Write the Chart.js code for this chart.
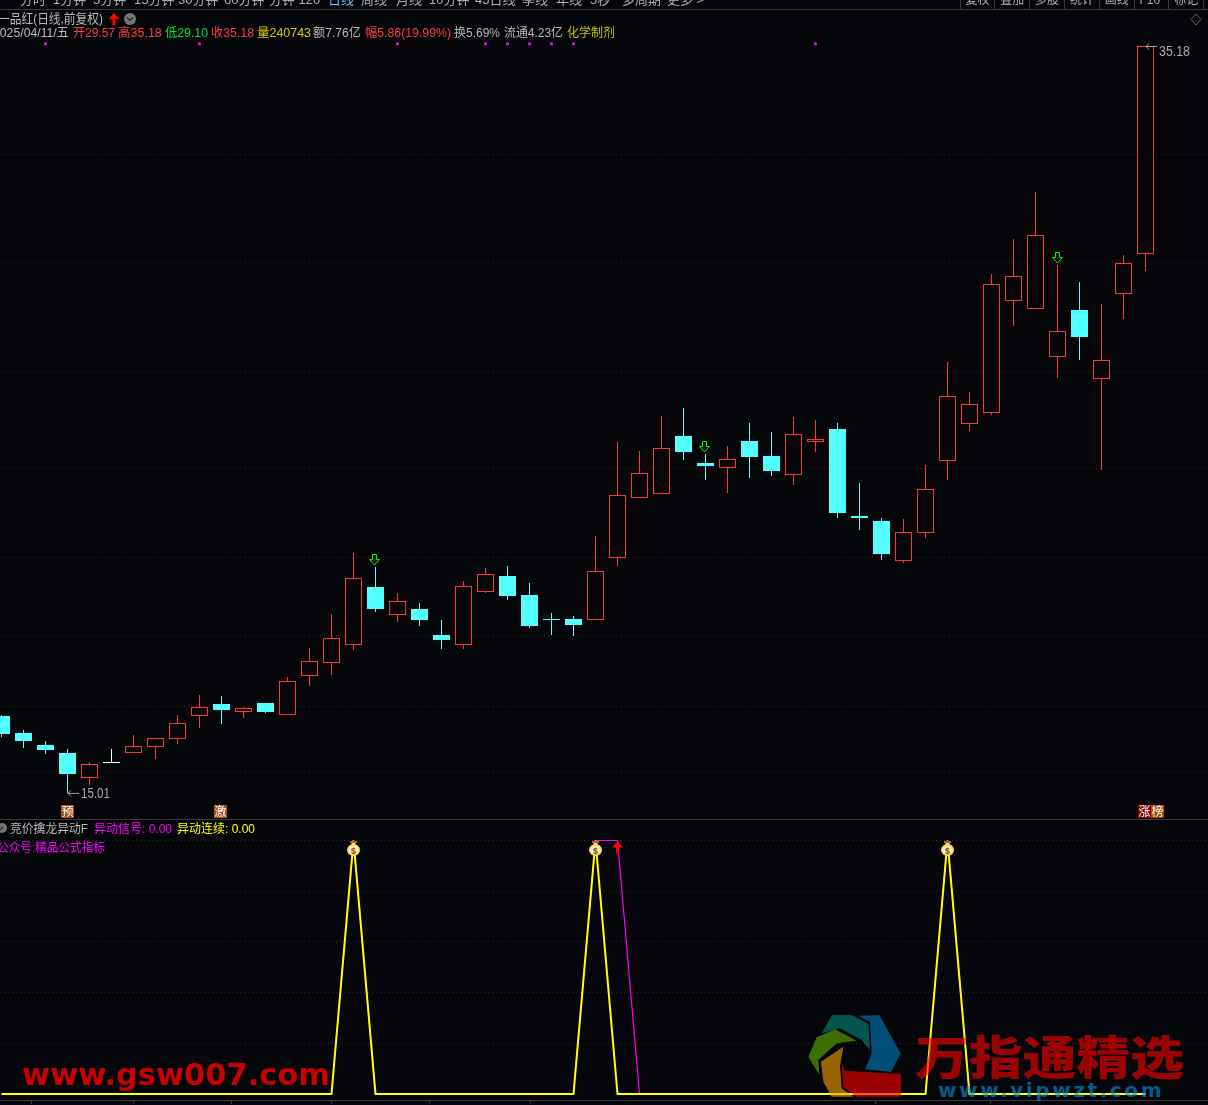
<!DOCTYPE html>
<html><head><meta charset="utf-8">
<script src="https://cdn.jsdelivr.net/npm/chart.js@4/dist/chart.umd.min.js"></script>
<style>
html,body{margin:0;padding:0;background:#05060a;overflow:hidden;width:1208px;height:1105px}
canvas{position:absolute;left:0}
#wrapA{position:absolute;left:0;top:0;width:1208px;height:819px}
#wrapB{position:absolute;left:0;top:819px;width:1208px;height:286px}
</style></head><body>
<div id="wrapA"><canvas id="price"></canvas></div>
<div id="wrapB"><canvas id="signal"></canvas></div>
<script>
// ---- data ----
const opens  = [17.09,16.63,16.30,16.09,15.41,15.85,16.09,16.25,16.47,17.09,17.41,17.19,17.44,17.11,18.17,18.52,19.00,20.57,19.81,19.98,19.27,19.00,20.44,20.87,20.35,19.71,19.71,19.68,21.35,22.97,23.08,24.65,23.92,23.78,24.51,24.11,23.59,24.49,24.84,22.49,22.35,21.27,22.03,23.97,24.97,25.27,28.29,28.08,26.78,28.05,26.19,28.48,29.57];
const highs  = [17.11,16.71,16.41,16.20,15.84,16.20,16.57,16.49,17.11,17.65,17.63,17.33,17.44,18.14,18.92,19.84,21.49,21.11,20.41,20.14,19.68,20.73,21.08,21.14,20.68,19.87,19.79,21.95,24.49,24.24,25.19,25.40,24.16,24.38,25.00,24.76,25.16,25.08,25.00,23.38,22.43,22.41,23.87,26.65,25.84,29.02,29.97,31.24,29.27,28.81,28.21,29.54,35.18];
const lows   = [16.52,16.22,16.06,15.01,15.22,15.82,16.09,15.93,16.33,16.76,16.87,17.03,17.17,17.11,17.90,18.19,18.87,19.90,19.63,19.52,18.90,18.90,20.41,20.22,19.46,19.27,19.25,19.68,21.14,22.97,23.08,24.00,23.46,23.11,23.51,23.57,23.32,24.22,22.43,22.11,21.30,21.22,21.89,23.46,24.78,25.22,27.62,28.08,26.21,26.70,23.73,27.81,29.10];
const closes = [16.60,16.41,16.17,15.52,15.79,15.85,16.28,16.49,16.90,17.33,17.25,17.30,17.19,18.03,18.57,19.19,20.81,19.98,20.19,19.68,19.14,20.60,20.92,20.33,19.52,19.68,19.54,21.00,23.05,23.65,24.32,24.22,23.84,24.03,24.08,23.70,24.70,24.57,22.57,22.43,21.46,22.06,23.22,25.73,25.51,28.75,28.97,30.08,27.48,27.32,26.70,29.32,35.18];
const priceGridTicks = [15.60,17.33,19.25,21.38,23.76,26.40,29.32,32.26];
const signalSeries     = [0,0,0,0,0,0,0,0,0,0,0,0,0,0,0,0,1,0,0,0,0,0,0,0,0,0,0,1,1,0,0,0,0,0,0,0,0,0,0,0,0,0,0,1,0,0,0,0,0,0,0,0,0];
const continuousSeries = [0,0,0,0,0,0,0,0,0,0,0,0,0,0,0,0,1,0,0,0,0,0,0,0,0,0,0,1,0,0,0,0,0,0,0,0,0,0,0,0,0,0,0,1,0,0,0,0,0,0,0,0,0];
const signalGridTicks = [0.2,0.4,0.6,0.8,1];
const markerDays = [2,9,18,22,23,24,25,26,37];
const sellArrowDays = [17,32,48];
const moneyBagDays = [16,27,43];
const buyArrowDay = 28;
const toolbarTabs = [["分时",20],["1分钟",53],["5分钟",93],["15分钟",134],["30分钟",178],["60分钟",224],["分钟 120",269],["日线",328],["周线",361],["月线",396],["10分钟",429],["45日线",475],["季线",522],["年线",556],["5秒",590],["多周期",622],["更多 >",667]];
const toolbarButtons = ["复权","叠加","多股","统计","画线","F10","标记"];
const quoteLine = [["2025/04/11/五",-7,76,"#b8b8b8"],["开29.57",73,42,"#ff3c3c"],["高35.18",118,44,"#ff3c3c"],["低29.10",165,43,"#00e040"],["收35.18",211,43,"#ff3c3c"],["量240743",257,54,"#d8c800"],["额7.76亿",313,48,"#b8b8b8"],["幅5.86(19.99%)",365,86,"#ff3c3c"],["换5.69%",454,46,"#b8b8b8"],["流通4.23亿",504,59,"#b8b8b8"],["化学制剂",567,48,"#c8c000"]];

// ---- styles ----
const BG = "#05060a", RED = "#ff3333", CYAN = "#54ffff", GRID = "#2c2c30";
const CJK = '"Liberation Sans","Noto Sans CJK SC",sans-serif';
const xMin = -1.5/22, xMax = (1208-1.5)/22;
const candleColor = i => closes[i] > opens[i] ? RED : closes[i] < opens[i] ? CYAN : "#ffffff";

function text(ctx, s, x, y, color, font, maxW){
  ctx.font = font; ctx.fillStyle = color; ctx.textAlign = "left"; ctx.textBaseline = "alphabetic";
  if (maxW) ctx.fillText(s, x, y, maxW); else ctx.fillText(s, x, y);
}
function poly(ctx, pts){ ctx.beginPath(); pts.forEach((p,i)=> i?ctx.lineTo(p[0],p[1]):ctx.moveTo(p[0],p[1])); ctx.closePath(); }
function upArrow(ctx, cx, top, color){
  poly(ctx, [[cx,top],[cx+5.5,top+6],[cx+1.5,top+6],[cx+1.5,top+12],[cx-1.5,top+12],[cx-1.5,top+6],[cx-5.5,top+6]]);
  ctx.fillStyle = color; ctx.fill();
}
function tag(ctx, s, x, color){
  ctx.fillStyle = color; ctx.fillRect(x, 805, 13, 13);
  ctx.font = '12px "Noto Sans CJK SC"'; ctx.fillStyle = "#fff"; ctx.textAlign = "center"; ctx.textBaseline = "alphabetic";
  ctx.fillText(s, x+6.5, 816); ctx.textAlign = "left";
}
function leftArrow(ctx, x0, x1, y){
  ctx.strokeStyle = "#aaaaaa"; ctx.lineWidth = 1; ctx.beginPath();
  ctx.moveTo(x1, y+.5); ctx.lineTo(x0, y+.5); ctx.moveTo(x0+3, y-2.5); ctx.lineTo(x0, y+.5); ctx.lineTo(x0+3, y+3.5); ctx.stroke();
}

// round the bars the library positioned onto whole pixel rows
const snapBars = { id:"snapBars", afterDatasetsUpdate(chart){
  chart.getDatasetMeta(0).data.concat(chart.getDatasetMeta(1).data).forEach(el=>{
    if (el.base === undefined) return;
    el.y = Math.round(el.y); el.base = Math.round(el.base);
    if (el.base === el.y) el.base = el.y + 1;
    el.height = el.base - el.y;
  });
}};

const priceOverlay = { id:"priceOverlay", afterDraw(chart){
  const ctx = chart.ctx, X = chart.scales.x, Y = chart.scales.y;
  ctx.save();
  // toolbar (cut by the window's top edge)
  ctx.fillStyle = BG; ctx.fillRect(0,0,1208,9);
  toolbarTabs.forEach(t => text(ctx, t[0], t[1], 4, t[0]==="日线" ? "#55ccff" : "#b0b0b0", '13px '+CJK));
  ctx.fillStyle = "#3a3a3a"; ctx.fillRect(0,9,1208,1);
  toolbarButtons.forEach((b,i)=>{
    const x = 959.5 + i*34.8;
    ctx.fillStyle = "#3a3a3a"; ctx.fillRect(Math.round(x),0,1,9);
    text(ctx, b, x+6, 4, "#b0b0b0", '12px '+CJK);
  });
  ctx.fillStyle = "#3a3a3a"; ctx.fillRect(1203,0,1,9);
  // title rows
  text(ctx, "一品红(日线,前复权)", -2, 23, "#b8b8b8", '13px '+CJK, 105);
  upArrow(ctx, 114, 13, "#ff0000");
  ctx.fillStyle = "#777"; ctx.beginPath(); ctx.arc(130,19,6,0,7); ctx.fill();
  ctx.strokeStyle = "#222"; ctx.lineWidth = 1.2; ctx.beginPath(); ctx.moveTo(127,17.5); ctx.lineTo(130,20.5); ctx.lineTo(133,17.5); ctx.stroke();
  ctx.strokeStyle = "#666"; ctx.lineWidth = 1; poly(ctx,[[1196,14],[1201,19.5],[1196,25],[1191,19.5]]); ctx.stroke();
  quoteLine.forEach(q => text(ctx, q[0], q[1], 37, q[3], '12.5px '+CJK, q[2]));
  // high / low labels
  leftArrow(ctx, 1146, 1157, Y.getPixelForValue(highs[52]));
  text(ctx, highs[52].toFixed(2), 1159, 56, "#aaaaaa", '14px "Liberation Sans"', 31);
  leftArrow(ctx, 68, 79, Y.getPixelForValue(lows[3]));
  text(ctx, lows[3].toFixed(2), 81, 798, "#aaaaaa", '14px "Liberation Sans"', 29);
  // sell arrows
  sellArrowDays.forEach(i=>{
    const cx = Math.round(X.getPixelForValue(i)) - .5, t = Math.round(Y.getPixelForValue(highs[i])) - 13;
    ctx.strokeStyle = "#00ff00"; ctx.lineWidth = 1;
    poly(ctx,[[cx-2,t+.5],[cx+2,t+.5],[cx+2,t+5.5],[cx+5,t+5.5],[cx,t+11],[cx-5,t+5.5],[cx-2,t+5.5]]); ctx.stroke();
  });
  // tags
  tag(ctx,"预",61,"#a84c10"); tag(ctx,"激",214,"#a84c10"); tag(ctx,"涨",1138,"#8b0000"); tag(ctx,"榜",1151,"#a04a00");
  ctx.restore();
}};

new Chart(document.getElementById("price"), {
  type:"bar",
  data:{ datasets:[
    { label:"K线实体", order:1, data:opens.map((o,i)=>({x:i,y:[o,closes[i]]})),
      barPercentage:1, categoryPercentage:1, maxBarThickness:17, inflateAmount:0,
      backgroundColor:c=>candleColor(c.dataIndex)===RED?BG:candleColor(c.dataIndex),
      borderColor:c=>candleColor(c.dataIndex), borderWidth:c=>candleColor(c.dataIndex)===RED?1:0, borderSkipped:false },
    { label:"影线", order:2, data:highs.map((h,i)=>({x:i,y:[lows[i],h]})),
      barPercentage:1, categoryPercentage:1, maxBarThickness:1, inflateAmount:0, backgroundColor:c=>candleColor(c.dataIndex), borderWidth:0 },
    { label:"标记", order:0, type:"line", showLine:false, data:markerDays.map(i=>({x:i,y:35.24})),
      pointStyle:"rect", pointRadius:2, pointBorderWidth:0, pointBackgroundColor:"#ff00ff" }
  ]},
  options:{
    responsive:true, maintainAspectRatio:false, animation:false, devicePixelRatio:1,
    grouped:false,
    layout:{autoPadding:false,padding:{top:10,bottom:0,left:0,right:0}},
    plugins:{legend:{display:false},tooltip:{enabled:false}},
    scales:{
      x:{type:"linear",offset:false,min:xMin,max:xMax,bounds:"data",display:false,grid:{display:false,offset:false}},
      y:{type:"linear",min:14.305,max:36.152,bounds:"data",
         ticks:{display:false},border:{display:false,dash:[1,3]},
         grid:{color:GRID,drawTicks:false,lineWidth:1},
         afterBuildTicks:s=>{s.ticks=priceGridTicks.map(v=>({value:v}));}}
    }
  },
  plugins:[snapBars,priceOverlay]
});

const signalOverlay = { id:"signalOverlay", afterDraw(chart){
  const ctx = chart.ctx, X = chart.scales.x, Y = chart.scales.y;
  ctx.save();
  ctx.translate(0,-819);
  // pane edges
  ctx.fillStyle = "#3a3a3a"; ctx.fillRect(0,819,1208,1);
  ctx.fillRect(0,1100,1208,1);
  [31,133,231,331,429,530,875,990].forEach(x=>ctx.fillRect(x,1101,1,3));
  // legend
  ctx.fillStyle = "#777"; ctx.beginPath(); ctx.arc(2,828,5,0,7); ctx.fill();
  ctx.strokeStyle = "#222"; ctx.lineWidth = 1.2; ctx.beginPath(); ctx.moveTo(0,830); ctx.lineTo(3,827); ctx.stroke();
  text(ctx,"竞价擒龙异动F",10,833,"#b8b8b8",'12.5px '+CJK,78);
  text(ctx,"异动信号: 0.00",94,833,"#ff00ff",'12.5px '+CJK,78);
  text(ctx,"异动连续: 0.00",177,833,"#ffff00",'12.5px '+CJK,78);
  text(ctx,"公众号:精品公式指标",-3,852,"#ff00ff",'12.5px '+CJK,108);
  // money bags at the signal peaks
  moneyBagDays.forEach(i=>{
    const cx = X.getPixelForValue(i), cy = Y.getPixelForValue(1)+819+8.5;
    ctx.fillStyle = "#a06a30"; ctx.fillRect(cx-3.5,cy-8,7,2);
    ctx.fillStyle = "#ffe070"; ctx.fillRect(cx-2,cy-6,4,2);
    ctx.beginPath(); ctx.ellipse(cx,cy+1,6.5,6,0,0,7); ctx.fillStyle="#ffd860"; ctx.fill();
    ctx.beginPath(); ctx.ellipse(cx,cy+1,4.5,4.5,0,0,7); ctx.fillStyle="#fff0c0"; ctx.fill();
    ctx.font='bold 9px "Liberation Sans"'; ctx.fillStyle="#70401c"; ctx.textAlign="center"; ctx.fillText("$",cx,cy+4.5); ctx.textAlign="left";
  });
  // buy arrow
  upArrow(ctx, X.getPixelForValue(buyArrowDay), Y.getPixelForValue(1)+819+1, "#ff0000");
  // watermarks
  ctx.globalAlpha = .62;
  const m = p => p.map(q=>[q[0]/3+790,q[1]/3+1000]);
  poly(ctx,m([[205,47],[268,45],[332,160],[303,216],[226,208],[245,160],[240,65]])); ctx.fillStyle="rgb(0,125,190)"; ctx.fill();
  poly(ctx,m([[127,45],[185,45],[235,72],[240,150],[215,120],[150,85],[95,100]])); ctx.fillStyle="rgb(0,135,125)"; ctx.fill();
  poly(ctx,m([[135,88],[200,122],[140,130],[85,180],[88,225],[55,170],[80,112]])); ctx.fillStyle="rgb(95,175,0)"; ctx.fill();
  poly(ctx,m([[160,140],[150,200],[155,265],[190,290],[125,290],[100,245],[93,185]])); ctx.fillStyle="rgb(245,160,0)"; ctx.fill();
  poly(ctx,m([[155,190],[165,212],[333,222],[333,290],[200,290],[160,262]])); ctx.fillStyle="rgb(247,0,0)"; ctx.fill();
  ctx.save();
  ctx.translate(915,1074); ctx.scale(1.17,1);
  ctx.fillStyle="rgb(247,0,0)";
  ctx.font='900 46px "Noto Sans CJK SC"'; ctx.textAlign="left";
  ctx.fillText("万指通精选",0,0);
  ctx.restore();
  ctx.fillStyle="rgb(0,145,225)"; ctx.font='bold 20px "DejaVu Sans"'; ctx.letterSpacing="2.6px"; ctx.textAlign="left";
  ctx.fillText("www.vipwzt.com",938,1097);
  ctx.globalAlpha = 1; ctx.letterSpacing="0px";
  ctx.fillStyle="#c80000"; ctx.font='bold 31px "DejaVu Sans"';
  ctx.fillText("www.gsw007.com",22,1085,308);
  ctx.restore();
}};

new Chart(document.getElementById("signal"), {
  type:"line",
  data:{ datasets:[
    { label:"异动连续", order:1, data:continuousSeries.map((v,i)=>({x:i,y:v})), borderColor:"#ffff00", borderWidth:2, pointRadius:0, tension:0, clip:false },
    { label:"异动信号", order:2, data:signalSeries.map((v,i)=>({x:i,y:v})), borderColor:"#ff00ff", borderWidth:1.2, pointRadius:0, tension:0, clip:false }
  ]},
  options:{
    responsive:true, maintainAspectRatio:false, animation:false, devicePixelRatio:1,
    layout:{autoPadding:false,padding:{top:21.5,bottom:11,left:0,right:0}},
    plugins:{legend:{display:false},tooltip:{enabled:false}},
    scales:{
      x:{type:"linear",min:xMin,max:xMax,bounds:"data",display:false,grid:{display:false}},
      y:{type:"linear",min:0,max:1,bounds:"data",
         ticks:{display:false},border:{display:false,dash:[1,3]},
         grid:{color:GRID,drawTicks:false,lineWidth:1},
         afterBuildTicks:s=>{s.ticks=signalGridTicks.map(v=>({value:v}));}}
    }
  },
  plugins:[signalOverlay]
});
</script>
</body></html>
